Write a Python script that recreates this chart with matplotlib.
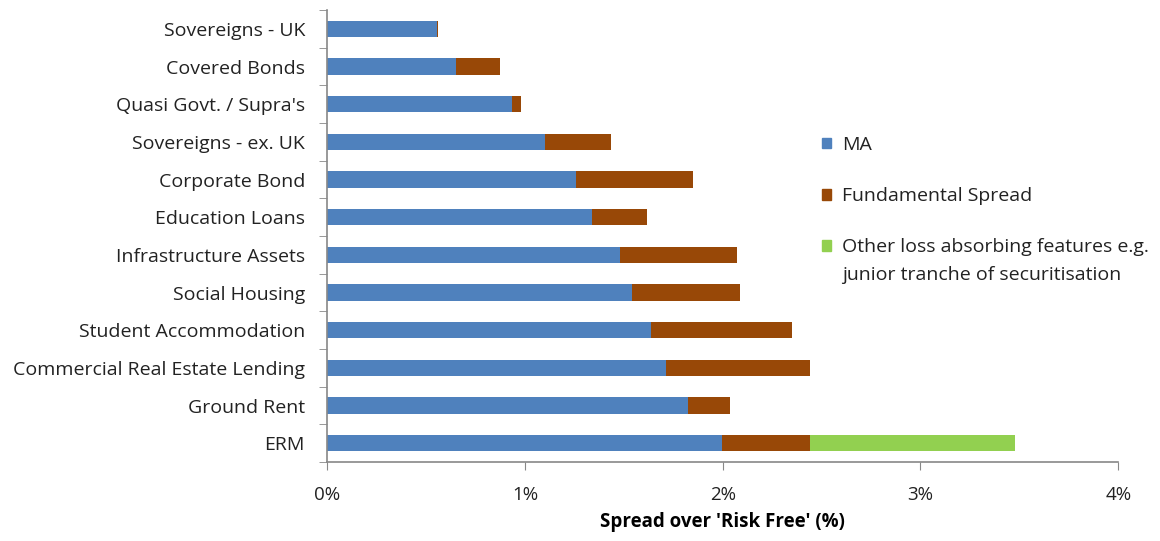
import matplotlib.pyplot as plt
import numpy as np
from matplotlib.patches import Patch

plt.rcParams['font.family'] = ['Open Sans', 'DejaVu Sans']

categorie = ['Sovereigns - UK', 'Covered Bonds', 'Quasi Govt. / Supra\'s',
             'Sovereigns - ex. UK', 'Corporate Bond', 'Education Loans',
             'Infrastructure Assets', 'Social Housing', 'Student Accommodation',
             'Commercial Real Estate Lending', 'Ground Rent', 'ERM']

# valori in %
ma = [0.556, 0.652, 0.936, 1.102, 1.259, 1.340, 1.482, 1.542, 1.638, 1.714, 1.826, 1.997]
fund_spread = [0.006, 0.223, 0.045, 0.334, 0.592, 0.278, 0.591, 0.546, 0.713, 0.728, 0.212, 0.445]
altro = [0, 0, 0, 0, 0, 0, 0, 0, 0, 0, 0, 1.037]

col_ma = '#4F81BD'
col_fs = '#984807'
col_altro = '#92D050'

fig = plt.figure(figsize=(11.6, 5.41), dpi=100)
ax = fig.add_axes([0.282, 0.146, 0.682, 0.8355])

y = np.arange(len(categorie))
h = 0.43
ma = np.array(ma)
fund_spread = np.array(fund_spread)
altro = np.array(altro)

ax.barh(y, ma, height=h, color=col_ma, edgecolor='none')
ax.barh(y, fund_spread, left=ma, height=h, color=col_fs, edgecolor='none')
ax.barh(y, altro, left=ma + fund_spread, height=h, color=col_altro, edgecolor='none')

ax.set_ylim(len(categorie) - 0.5, -0.5)
ax.set_xlim(0, 4)
ax.set_xticks([0, 1, 2, 3, 4])
ax.set_xticklabels(['0%', '1%', '2%', '3%', '4%'], fontsize=13.5, color='#222222')
ax.set_yticks(y)
ax.set_yticklabels(categorie, fontsize=14, color='#222222')
ax.tick_params(axis='y', length=0, pad=16)
ax.tick_params(axis='x', length=6, color='#888888', pad=11, direction='out')

# tacche tra le categorie
ax.set_yticks(np.arange(-0.5, len(categorie)), minor=True)
ax.tick_params(axis='y', which='minor', length=6, color='#888888')

ax.set_xlabel("Spread over 'Risk Free' (%)", fontsize=13.5, fontweight='bold', labelpad=6)

for s in ['top', 'right']:
    ax.spines[s].set_visible(False)
for s in ['left', 'bottom']:
    ax.spines[s].set_color('#888888')
    ax.spines[s].set_linewidth(1.2)

handles = [Patch(color=col_ma, label='MA'),
           Patch(color=col_fs, label='Fundamental Spread'),
           Patch(color=col_altro, label='Other loss absorbing features e.g.')]
leg = fig.legend(handles=handles, loc='upper left', bbox_to_anchor=(0.6937, 0.781), frameon=False,
                 fontsize=14, handlelength=0.45, handleheight=0.45, handletextpad=0.55,
                 labelspacing=1.71, labelcolor='#222222')

# seconda riga della terza voce, sotto la prima
fig.canvas.draw()
bb = leg.get_texts()[2].get_window_extent().transformed(fig.transFigure.inverted())
fig.text(bb.x0, bb.y0 - 28 / 541, 'junior tranche of securitisation', fontsize=14,
         ha='left', va='bottom', color='#222222')

fig.savefig('out.png', dpi=100)
